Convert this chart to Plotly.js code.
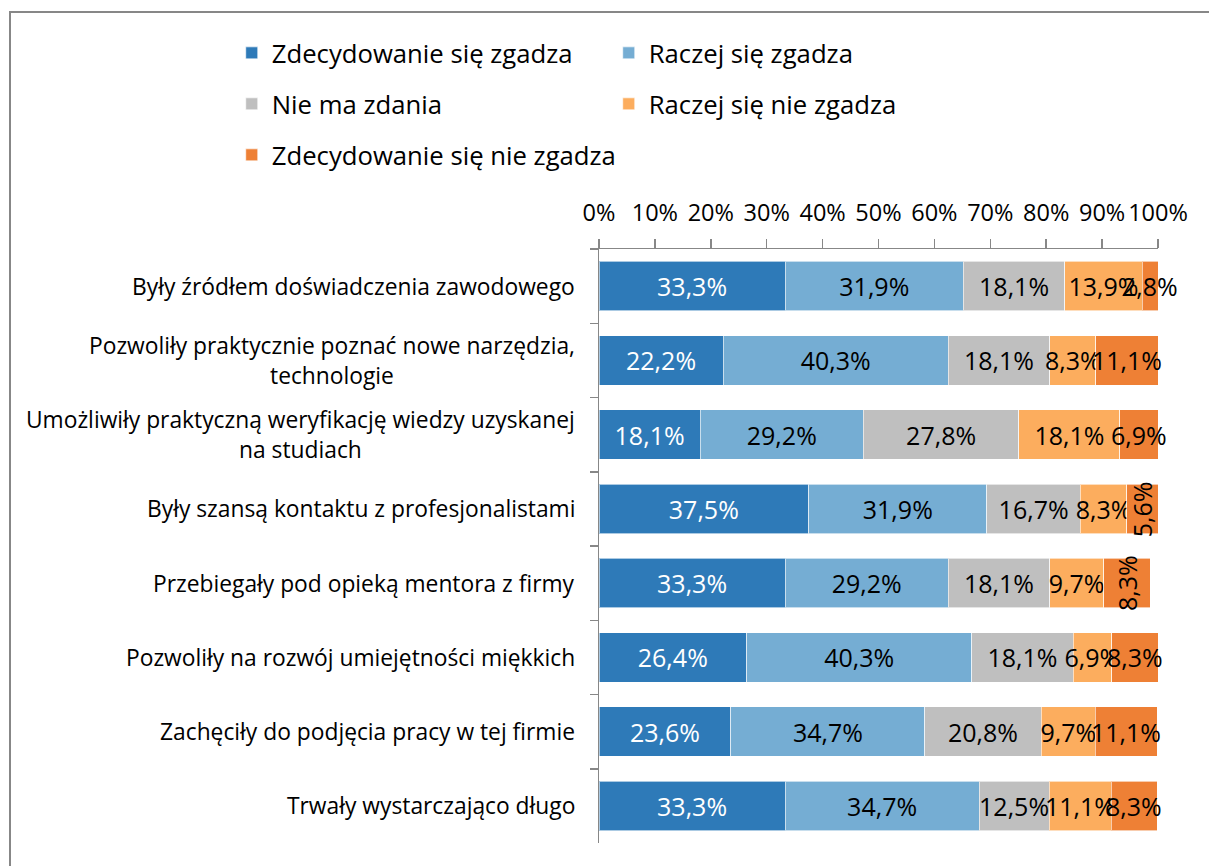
<!DOCTYPE html>
<html>
<head>
<meta charset="utf-8">
<script src="https://cdn.plot.ly/plotly-3.0.1.min.js"></script>
<style>
  html, body { margin: 0; padding: 0; background: #fff; }
  #wrap { position: relative; width: 1209px; height: 866px; overflow: hidden; }
  #chart { position: absolute; left: 0; top: 0; width: 1209px; height: 866px; }
  #frame { position: absolute; left: 9px; top: 11px; width: 1400px; height: 1000px;
           border-left: 2px solid #878787; border-top: 2px solid #878787; pointer-events: none; }
</style>
</head>
<body>
<div id="wrap"><div id="chart"></div><div id="frame"></div></div>
<script>
const categories = [
  "Były źródłem doświadczenia zawodowego",
  "Pozwoliły praktycznie poznać nowe narzędzia,<br>technologie",
  "Umożliwiły praktyczną weryfikację wiedzy uzyskanej<br>na studiach",
  "Były szansą kontaktu z profesjonalistami",
  "Przebiegały pod opieką mentora z firmy",
  "Pozwoliły na rozwój umiejętności miękkich",
  "Zachęciły do podjęcia pracy w tej firmie",
  "Trwały wystarczająco długo"
];
const seriesNames = [
  "Zdecydowanie się zgadza",
  "Raczej się zgadza",
  "Nie ma zdania",
  "Raczej się nie zgadza",
  "Zdecydowanie się nie zgadza"
];
const zdecydowanieZgadza   = [33.3, 22.2, 18.1, 37.5, 33.3, 26.4, 23.6, 33.3];
const raczejZgadza         = [31.9, 40.3, 29.2, 31.9, 29.2, 40.3, 34.7, 34.7];
const nieMaZdania          = [18.1, 18.1, 27.8, 16.7, 18.1, 18.1, 20.8, 12.5];
const raczejNieZgadza      = [13.9,  8.3, 18.1,  8.3,  9.7,  6.9,  9.7, 11.1];
const zdecydowanieNieZgadza= [ 2.8, 11.1,  6.9,  5.6,  8.3,  8.3, 11.1,  8.3];
const seriesValues = [zdecydowanieZgadza, raczejZgadza, nieMaZdania, raczejNieZgadza, zdecydowanieNieZgadza];
const xTickStep = 10;
// rows whose last-segment label is drawn rotated in the original
const rotatedLastLabels = [3, 4];

const FONT = "Open Sans, Noto Sans, sans-serif";
const colors = ["#2E7AB8", "#75ADD3", "#BFBFBF", "#FCAD5E", "#EE8035"];
const textColors = ["#ffffff", "#000000", "#000000", "#000000", "#000000"];
const legendOf = ["legend", "legend", "legend2", "legend2", "legend3"];

const traces = seriesValues.map((vals, i) => ({
  type: "bar",
  orientation: "h",
  name: seriesNames[i],
  y: categories,
  x: vals,
  legend: legendOf[i],
  marker: { color: colors[i], line: { color: "rgba(255,255,255,0.6)", width: 1 } },
  texttemplate: i < 4 ? "%{x:.1f}%" : "",
  textposition: i < 4 ? "inside" : "none",
  insidetextanchor: "middle",
  textangle: 0,
  constraintext: "none",
  cliponaxis: false,
  textfont: { family: FONT, size: 25, color: textColors[i] },
  hoverinfo: "skip"
}));

const annotations = [];
// category labels (centered multi-line, right aligned block)
categories.forEach(c => {
  annotations.push({
    xref: "paper", yref: "y", x: 0, y: c, xanchor: "right", yanchor: "middle",
    xshift: -22, align: "center", showarrow: false, text: c,
    font: { family: FONT, size: 22.8, color: "#000" }
  });
});
// labels of the last series
categories.forEach((c, r) => {
  let start = 0;
  for (let s = 0; s < 4; s++) start += seriesValues[s][r];
  const v = zdecydowanieNieZgadza[r];
  annotations.push({
    xref: "x", yref: "y", x: start + v / 2, y: c, xanchor: "center", yanchor: "middle",
    showarrow: false, text: v.toFixed(1).replace(".", ",") + "%",
    textangle: rotatedLastLabels.includes(r) ? -90 : 0,
    font: { family: FONT, size: 25, color: "#000" }
  });
});

const legendBase = {
  orientation: "h", entrywidth: 332, entrywidthmode: "pixels",
  x: -0.657, xanchor: "left", yanchor: "middle",
  font: { family: FONT, size: 25.7, color: "#000" },
  bgcolor: "rgba(0,0,0,0)", traceorder: "normal"
};

const layout = {
  width: 1209, height: 866,
  margin: { l: 599, r: 51, t: 249, b: 22.5, autoexpand: false },
  paper_bgcolor: "#fff", plot_bgcolor: "#fff",
  barmode: "stack", bargap: 0.334,
  separators: ", ",
  font: { family: FONT, color: "#000" },
  showlegend: true,
  legend: Object.assign({}, legendBase, { y: 1.3297 }),
  legend2: Object.assign({}, legendBase, { y: 1.2439 }),
  legend3: Object.assign({}, legendBase, { y: 1.158, entrywidth: 420 }),
  xaxis: {
    side: "top", range: [0, 100], tickmode: "linear", tick0: 0, dtick: xTickStep,
    ticksuffix: "%", showticksuffix: "all",
    ticks: "outside", ticklen: 9, tickcolor: "#878787", tickwidth: 1.5,
    ticklabelstandoff: 8,
    showline: true, linecolor: "#878787", linewidth: 1.5,
    showgrid: false, zeroline: false,
    tickfont: { family: FONT, size: 23.5, color: "#000" }
  },
  yaxis: {
    type: "category", categoryarray: categories, categoryorder: "array",
    range: [7.5, -0.5], autorange: false,
    ticks: "outside", tickson: "boundaries", ticklen: 8, tickcolor: "#878787", tickwidth: 1.5,
    showline: true, linecolor: "#878787", linewidth: 1.5,
    showgrid: false, zeroline: false, showticklabels: false
  },
  annotations: annotations
};

Plotly.newPlot("chart", traces, layout, { displayModeBar: false, staticPlot: true });
</script>
</body>
</html>
